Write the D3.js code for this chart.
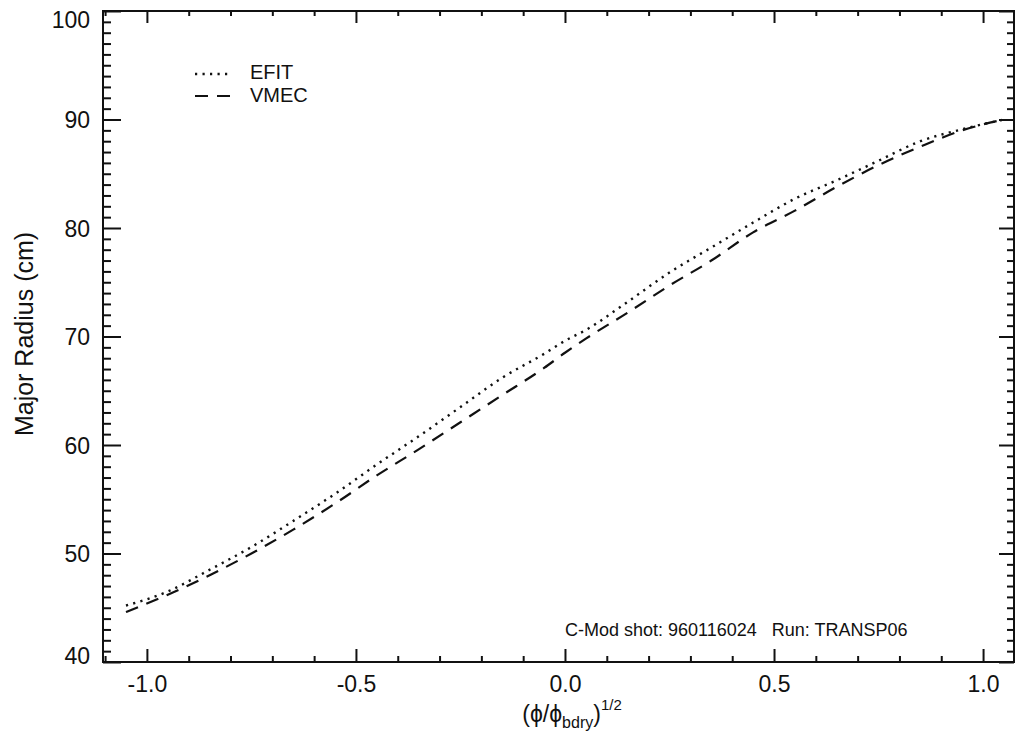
<!DOCTYPE html>
<html>
<head>
<meta charset="utf-8">
<script src="https://cdn.jsdelivr.net/npm/d3@7"></script>
<style>
  html, body { margin: 0; padding: 0; background: #fff; }
  svg { display: block; }
  text { font-family: "Liberation Sans", Arial, Helvetica, sans-serif; fill: #111; }
</style>
</head>
<body>
<svg id="chart" width="1018" height="731"></svg>
<script>
// ---- data ----
const xVals = [-1.05, -0.95, -0.85, -0.75, -0.65, -0.55, -0.45, -0.35, -0.25, -0.15, -0.05, 0.0, 0.05, 0.15, 0.25, 0.35, 0.45, 0.55, 0.65, 0.75, 0.85, 0.95, 1.05];
const efit = [45.2, 46.5, 48.5, 50.6, 53.0, 55.5, 58.2, 60.8, 63.5, 66.2, 68.4, 69.6, 70.6, 73.2, 75.9, 78.2, 80.5, 82.7, 84.4, 86.2, 88.0, 89.1, 90.0];
const vmec = [44.6, 46.2, 48.0, 50.0, 52.2, 54.6, 57.2, 59.6, 62.1, 64.6, 67.1, 68.5, 69.8, 72.2, 74.7, 77.0, 79.6, 81.6, 83.8, 85.8, 87.5, 89.0, 90.0];
const xMajorTicks = [-1.0, -0.5, 0.0, 0.5, 1.0];
const xMinorTicks = [-1.1, -0.9, -0.8, -0.7, -0.6, -0.4, -0.3, -0.2, -0.1, 0.1, 0.2, 0.3, 0.4, 0.6, 0.7, 0.8, 0.9];
const yMajorTicks = [40, 50, 60, 70, 80, 90, 100];
const yMinorTicks = d3.range(41, 100).filter(v => v % 10 !== 0);
const legendLabels = ["EFIT", "VMEC"];
const annotation = "C-Mod shot: 960116024   Run: TRANSP06";
const yTitle = "Major Radius (cm)";

// ---- layout ----
const L = 103, R = 1014, T = 11, B = 662;
const svg = d3.select("#chart");
const x = d3.scaleLinear().domain([-1.105, 1.074]).range([L, R]);
const y = d3.scaleLinear().domain([40, 100]).range([B, T]);

const ink = "#111";

// frame
svg.append("rect").attr("x", L).attr("y", T).attr("width", R - L).attr("height", B - T)
  .attr("fill", "none").attr("stroke", ink).attr("stroke-width", 2);

function styleAxis(g) {
  g.select(".domain").remove();
  g.selectAll(".tick line").attr("stroke", ink).attr("stroke-width", 2);
}

// bottom axis
svg.append("g").attr("transform", `translate(0,${B})`)
  .call(d3.axisBottom(x).tickValues(xMajorTicks).tickSize(-13).tickPadding(20)
    .tickFormat(d => d3.format(".1f")(d).replace("−", "-")))
  .call(styleAxis)
  .call(g => g.selectAll("text").attr("font-size", 23).attr("fill", ink).attr("dy", "0.71em").attr("y", 14));
svg.append("g").attr("transform", `translate(0,${B})`)
  .call(d3.axisBottom(x).tickValues(xMinorTicks).tickSize(-6).tickFormat(""))
  .call(styleAxis);
// top axis
svg.append("g").attr("transform", `translate(0,${T})`)
  .call(d3.axisTop(x).tickValues(xMajorTicks).tickSize(-12).tickFormat(""))
  .call(styleAxis);
svg.append("g").attr("transform", `translate(0,${T})`)
  .call(d3.axisTop(x).tickValues(xMinorTicks).tickSize(-5).tickFormat(""))
  .call(styleAxis);

// left axis
svg.append("g").attr("transform", `translate(${L},0)`)
  .call(d3.axisLeft(y).tickValues(yMajorTicks).tickSize(-18).tickPadding(13).tickFormat(d3.format("d")))
  .call(styleAxis)
  .call(g => g.selectAll("text").attr("font-size", 23).attr("fill", ink)
    .attr("dy", d => d === 100 ? "0.72em" : (d === 40 ? "0.05em" : "0.35em")));
svg.append("g").attr("transform", `translate(${L},0)`)
  .call(d3.axisLeft(y).tickValues(yMinorTicks).tickSize(-8).tickFormat(""))
  .call(styleAxis);
// right axis
svg.append("g").attr("transform", `translate(${R},0)`)
  .call(d3.axisRight(y).tickValues(yMajorTicks).tickSize(-15).tickFormat(""))
  .call(styleAxis);
svg.append("g").attr("transform", `translate(${R},0)`)
  .call(d3.axisRight(y).tickValues(yMinorTicks).tickSize(-7).tickFormat(""))
  .call(styleAxis);

// axis titles
svg.append("text").attr("transform", `translate(33,334) rotate(-90)`)
  .attr("text-anchor", "middle").attr("font-size", 25).text(yTitle);

const xt = svg.append("text").attr("x", 572).attr("y", 722).attr("text-anchor", "middle").attr("font-size", 23);
xt.append("tspan").text("(ϕ/ϕ");
xt.append("tspan").attr("font-size", 16).attr("dy", 6).text("bdry");
xt.append("tspan").attr("dy", -6).text(")");
xt.append("tspan").attr("font-size", 15).attr("dy", -12).text("1/2");

// curves
const line = d3.line().x(d => x(d[0])).y(d => y(d[1])).curve(d3.curveMonotoneX);
svg.append("path").datum(xVals.map((v, i) => [v, efit[i]]))
  .attr("d", line).attr("fill", "none").attr("stroke", ink)
  .attr("stroke-width", 2.4).attr("stroke-dasharray", "2.2,5.3");
svg.append("path").datum(xVals.map((v, i) => [v, vmec[i]]))
  .attr("d", line).attr("fill", "none").attr("stroke", ink)
  .attr("stroke-width", 2.2).attr("stroke-dasharray", "13,9");

// legend
const lg = svg.append("g");
lg.append("line").attr("x1", 195).attr("x2", 232).attr("y1", 74).attr("y2", 74)
  .attr("stroke", ink).attr("stroke-width", 2.4).attr("stroke-dasharray", "2.2,5.3");
lg.append("line").attr("x1", 195).attr("x2", 232).attr("y1", 96).attr("y2", 96)
  .attr("stroke", ink).attr("stroke-width", 2.2).attr("stroke-dasharray", "13,9");
lg.append("text").attr("x", 250).attr("y", 79).attr("font-size", 20).text(legendLabels[0]);
lg.append("text").attr("x", 250).attr("y", 102).attr("font-size", 20).text(legendLabels[1]);

// annotation
svg.append("text").attr("x", 565).attr("y", 636).attr("font-size", 18).text(annotation)
  .attr("xml:space", "preserve").style("white-space", "pre");
</script>
</body>
</html>
